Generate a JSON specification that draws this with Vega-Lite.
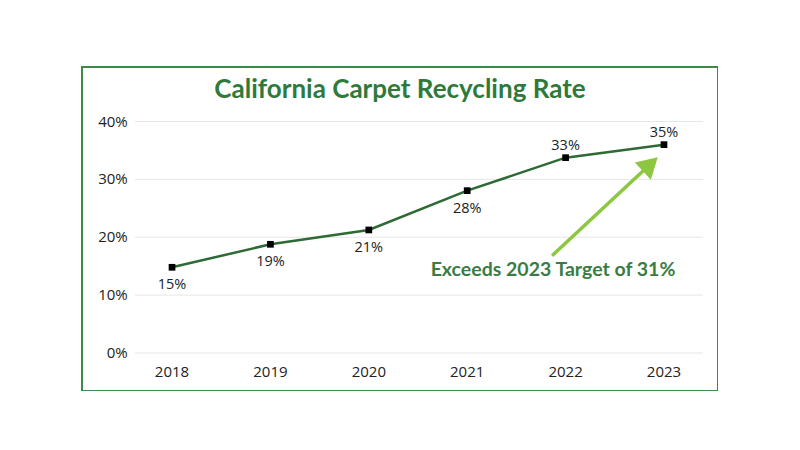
{
  "$schema": "https://vega.github.io/schema/vega-lite/v6.json",
  "width": 636,
  "height": 324,
  "autosize": {"type": "none"},
  "padding": {"left": 82, "top": 67, "right": 0, "bottom": 0},
  "background": "white",
  "title": {
    "text": "California Carpet Recycling Rate",
    "anchor": "middle",
    "frame": "group",
    "baseline": "alphabetic",
    "offset": -57,
    "font": "Lato",
    "fontSize": 26,
    "fontWeight": "bold",
    "color": "#2f7a3b"
  },
  "config": {
    "view": {"stroke": "#3f8a48", "strokeWidth": 2},
    "font": "Open Sans"
  },
  "datasets": {
    "rates": [
      {"year": 2018, "rate": 14.81, "label": "15%"},
      {"year": 2019, "rate": 18.78, "label": "19%"},
      {"year": 2020, "rate": 21.26, "label": "21%"},
      {"year": 2021, "rate": 28.05, "label": "28%"},
      {"year": 2022, "rate": 33.75, "label": "33%"},
      {"year": 2023, "rate": 36.0, "label": "35%"}
    ],
    "grid": [
      {"level": 0, "label": "0%"},
      {"level": 10, "label": "10%"},
      {"level": 20, "label": "20%"},
      {"level": 30, "label": "30%"},
      {"level": 40, "label": "40%"}
    ],
    "arrow": [{"x0": 2021.862, "y0": 16.81, "x1": 2022.86, "y1": 32.6}],
    "arrowhead": [{"x": 2022.861, "y": 32.62}],
    "note": [{"x": 2021.872, "y": 14.34, "text": "Exceeds 2023 Target of 31%"}]
  },
  "layer": [
    {
      "data": {"name": "grid"},
      "mark": {"type": "rule", "color": "#e6e6e6", "strokeWidth": 1},
      "encoding": {
        "y": {"field": "level", "type": "quantitative", "scale": {"domain": [-6.566, 49.417], "nice": false, "zero": false}, "axis": null},
        "x": {"datum": 2017.624, "type": "quantitative", "scale": {"domain": [2017.085, 2023.549], "nice": false, "zero": false}, "axis": null},
        "x2": {"datum": 2023.396}
      }
    },
    {
      "data": {"name": "grid"},
      "mark": {"type": "text", "align": "right", "baseline": "middle", "fontSize": 15, "color": "#222222"},
      "encoding": {
        "y": {"field": "level", "type": "quantitative", "scale": {"domain": [-6.566, 49.417], "nice": false, "zero": false}, "axis": null},
        "x": {"datum": 2017.55, "type": "quantitative", "scale": {"domain": [2017.085, 2023.549], "nice": false, "zero": false}, "axis": null},
        "text": {"field": "label"}
      }
    },
    {
      "data": {"name": "rates"},
      "mark": {"type": "text", "align": "center", "baseline": "middle", "fontSize": 15, "color": "#222222"},
      "encoding": {
        "x": {"field": "year", "type": "quantitative", "scale": {"domain": [2017.085, 2023.549], "nice": false, "zero": false}, "axis": null},
        "y": {"datum": -3.28, "type": "quantitative", "scale": {"domain": [-6.566, 49.417], "nice": false, "zero": false}, "axis": null},
        "text": {"field": "year", "type": "ordinal"}
      }
    },
    {
      "data": {"name": "rates"},
      "mark": {"type": "line", "color": "#2d6a34", "strokeWidth": 2.5},
      "encoding": {
        "x": {"field": "year", "type": "quantitative", "scale": {"domain": [2017.085, 2023.549], "nice": false, "zero": false}, "axis": null},
        "y": {"field": "rate", "type": "quantitative", "scale": {"domain": [-6.566, 49.417], "nice": false, "zero": false}, "axis": null}
      }
    },
    {
      "data": {"name": "rates"},
      "mark": {"type": "point", "shape": "square", "filled": true, "color": "#000000", "opacity": 1, "size": 45},
      "encoding": {
        "x": {"field": "year", "type": "quantitative", "scale": {"domain": [2017.085, 2023.549], "nice": false, "zero": false}, "axis": null},
        "y": {"field": "rate", "type": "quantitative", "scale": {"domain": [-6.566, 49.417], "nice": false, "zero": false}, "axis": null}
      }
    },
    {
      "data": {"name": "rates"},
      "transform": [{"filter": "datum.year <= 2021"}],
      "mark": {"type": "text", "dy": 18, "baseline": "middle", "align": "center", "fontSize": 14.5, "color": "#222222"},
      "encoding": {
        "x": {"field": "year", "type": "quantitative", "scale": {"domain": [2017.085, 2023.549], "nice": false, "zero": false}, "axis": null},
        "y": {"field": "rate", "type": "quantitative", "scale": {"domain": [-6.566, 49.417], "nice": false, "zero": false}, "axis": null},
        "text": {"field": "label"}
      }
    },
    {
      "data": {"name": "rates"},
      "transform": [{"filter": "datum.year >= 2022"}],
      "mark": {"type": "text", "dy": -12, "baseline": "middle", "align": "center", "fontSize": 14.5, "color": "#222222"},
      "encoding": {
        "x": {"field": "year", "type": "quantitative", "scale": {"domain": [2017.085, 2023.549], "nice": false, "zero": false}, "axis": null},
        "y": {"field": "rate", "type": "quantitative", "scale": {"domain": [-6.566, 49.417], "nice": false, "zero": false}, "axis": null},
        "text": {"field": "label"}
      }
    },
    {
      "data": {"name": "arrow"},
      "mark": {"type": "rule", "color": "#8dc63f", "strokeWidth": 3.5},
      "encoding": {
        "x": {"field": "x0", "type": "quantitative", "scale": {"domain": [2017.085, 2023.549], "nice": false, "zero": false}, "axis": null},
        "y": {"field": "y0", "type": "quantitative", "scale": {"domain": [-6.566, 49.417], "nice": false, "zero": false}, "axis": null},
        "x2": {"field": "x1"},
        "y2": {"field": "y1"}
      }
    },
    {
      "data": {"name": "arrowhead"},
      "mark": {"type": "point", "shape": "triangle-up", "angle": 47, "filled": true, "color": "#8dc63f", "opacity": 1, "size": 550},
      "encoding": {
        "x": {"field": "x", "type": "quantitative", "scale": {"domain": [2017.085, 2023.549], "nice": false, "zero": false}, "axis": null},
        "y": {"field": "y", "type": "quantitative", "scale": {"domain": [-6.566, 49.417], "nice": false, "zero": false}, "axis": null}
      }
    },
    {
      "data": {"name": "note"},
      "mark": {"type": "text", "baseline": "middle", "align": "center", "font": "Lato", "fontSize": 19.5, "fontWeight": "bold", "color": "#3a7d44"},
      "encoding": {
        "x": {"field": "x", "type": "quantitative", "scale": {"domain": [2017.085, 2023.549], "nice": false, "zero": false}, "axis": null},
        "y": {"field": "y", "type": "quantitative", "scale": {"domain": [-6.566, 49.417], "nice": false, "zero": false}, "axis": null},
        "text": {"field": "text"}
      }
    }
  ]
}
